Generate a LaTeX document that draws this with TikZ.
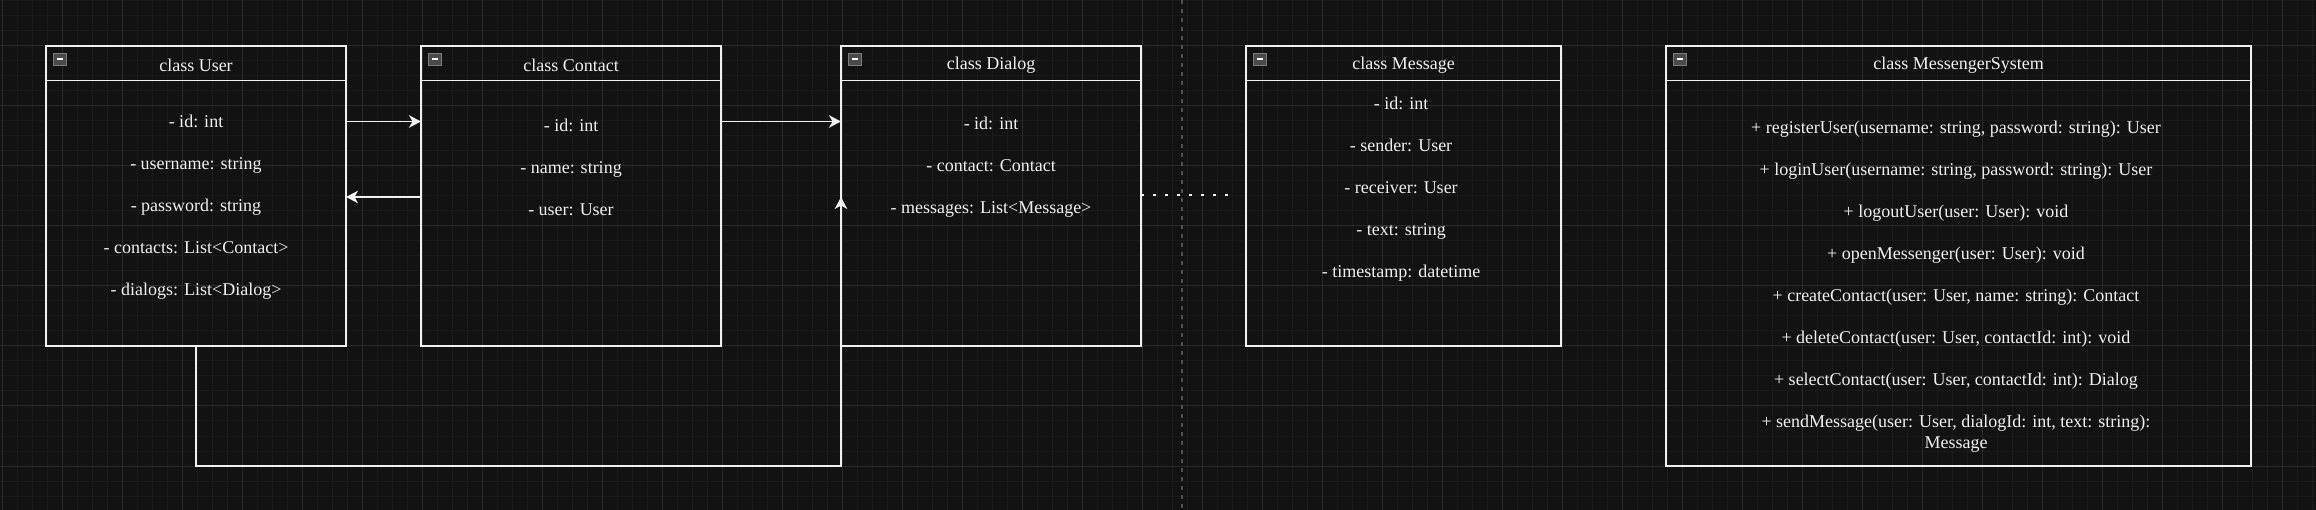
\documentclass[tikz,border=0pt]{standalone}
\usepackage{fontspec}
\setmainfont{Liberation Serif}
\usetikzlibrary{arrows.meta,calc}
\definecolor{bg}{HTML}{121212}
\definecolor{gridminor}{HTML}{1A1A1A}
\definecolor{gridmajor}{HTML}{2A2A2A}
\definecolor{fg}{HTML}{F0F0F0}
\definecolor{icfill}{HTML}{4A4A4A}
\definecolor{icborder}{HTML}{7C7C7C}
\definecolor{pagebreak}{HTML}{505050}
\begin{document}
\begin{tikzpicture}[x=1pt,y=-1pt,
  classbox/.style={draw=fg,line width=1.6pt,outer sep=0pt,inner sep=0pt,anchor=north west},
  boxline/.style={draw=fg,line width=1.6pt},
  titletext/.style={text=fg,font=\fontsize{18}{21}\selectfont,inner sep=0pt},
  bodytext/.style={text=fg,font=\fontsize{18}{21}\selectfont,align=center,inner sep=0pt},
  icon/.style={fill=icfill,draw=icborder,line width=1pt,minimum size=12.5pt,inner sep=0pt,
    path picture={\draw[white,line width=2pt] ([xshift=3pt]path picture bounding box.west) -- ([xshift=-3pt]path picture bounding box.east);}},
  arr/.style={draw=fg,line width=1.6pt,-{Stealth[length=12pt,width=12.5pt,inset=3.5pt]}},
  dots/.style={draw=fg,line width=2.6pt,dash pattern=on 2.6pt off 9.4pt}
]
\useasboundingbox (0,0) rectangle (2316,510);
\fill[bg] (0,0) rectangle (2316,510);
% grid
\foreach \gx in {2.7,17.7,...,2316} \draw[gridminor,line width=1pt] (\gx,0) -- (\gx,510);
\foreach \gy in {1,16,...,510} \draw[gridminor,line width=1pt] (0,\gy) -- (2316,\gy);
\foreach \gx in {2.7,62.7,...,2316} \draw[gridmajor,line width=1pt] (\gx,0) -- (\gx,510);
\foreach \gy in {46,106,...,510} \draw[gridmajor,line width=1pt] (0,\gy) -- (2316,\gy);
\draw[pagebreak,line width=1.2pt,dash pattern=on 4pt off 5pt] (1182,0) -- (1182,510);

% boxes
\node[classbox,minimum width=300pt,minimum height=300pt] (user) at (46,46) {};
\node[classbox,minimum width=300pt,minimum height=300pt] (contact) at (421,46) {};
\node[classbox,minimum width=300pt,minimum height=300pt] (dialog) at (841,46) {};
\node[classbox,minimum width=315pt,minimum height=300pt] (message) at (1246,46) {};
\node[classbox,minimum width=585pt,minimum height=420pt] (ms) at (1666,46) {};

\foreach \b in {user,contact,dialog,message,ms}{
  \draw[boxline] ([yshift=-34.5pt]\b.north west) -- ([yshift=-34.5pt]\b.north east);
  \node[icon] (\b I) at ($(\b.north west)+(14,13.5)$) {};
}

% titles
\node[titletext] (userT) at ($(user.north)+(0,19)$) {class User};
\node[titletext] (contactT) at ($(contact.north)+(0,19)$) {class Contact};
\node[titletext] (dialogT) at ($(dialog.north)+(0,19)$) {class Dialog};
\node[titletext] (messageT) at ($(message.north)+(0,19)$) {class Message};
\node[titletext] (msT) at ($(ms.north)+(0,19)$) {class MessengerSystem};

% bodies
\node[bodytext] (userB) at (196,207.5) {- id: int\\[21pt]- username: string\\[21pt]- password: string\\[21pt]- contacts: List<Contact>\\[21pt]- dialogs: List<Dialog>};
\node[bodytext] (contactB) at (571,167) {- id: int\\[21pt]- name: string\\[21pt]- user: User};
\node[bodytext] (dialogB) at (991,167) {- id: int\\[21pt]- contact: Contact\\[21pt]- messages: List<Message>};
\node[bodytext] (messageB) at (1401,189) {- id: int\\[21pt]- sender: User\\[21pt]- receiver: User\\[21pt]- text: string\\[21pt]- timestamp: datetime};
\node[bodytext] (msB) at (1956,286.5) {+ registerUser(username: string, password: string): User\\[21pt]+ loginUser(username: string, password: string): User\\[21pt]+ logoutUser(user: User): void\\[21pt]+ openMessenger(user: User): void\\[21pt]+ createContact(user: User, name: string): Contact\\[21pt]+ deleteContact(user: User, contactId: int): void\\[21pt]+ selectContact(user: User, contactId: int): Dialog\\[21pt]+ sendMessage(user: User, dialogId: int, text: string):\\Message};

% connectors
\draw[arr] ([yshift=-75.5pt]user.north east) -- ([yshift=-75.5pt]contact.north west);
\draw[arr] ([yshift=-151pt]contact.north west) -- ([yshift=-151pt]user.north east);
\draw[arr] ([yshift=-75.5pt]contact.north east) -- ([yshift=-75.5pt]dialog.north west);
\draw[arr] (user.south) -- (user.south |- 0,466) -| ([yshift=-151pt]dialog.north west);
\coordinate (dotend) at (1229,195);
\draw[dots] ([yshift=-149pt]dialog.north east) -- (dotend);
\end{tikzpicture}
\end{document}
